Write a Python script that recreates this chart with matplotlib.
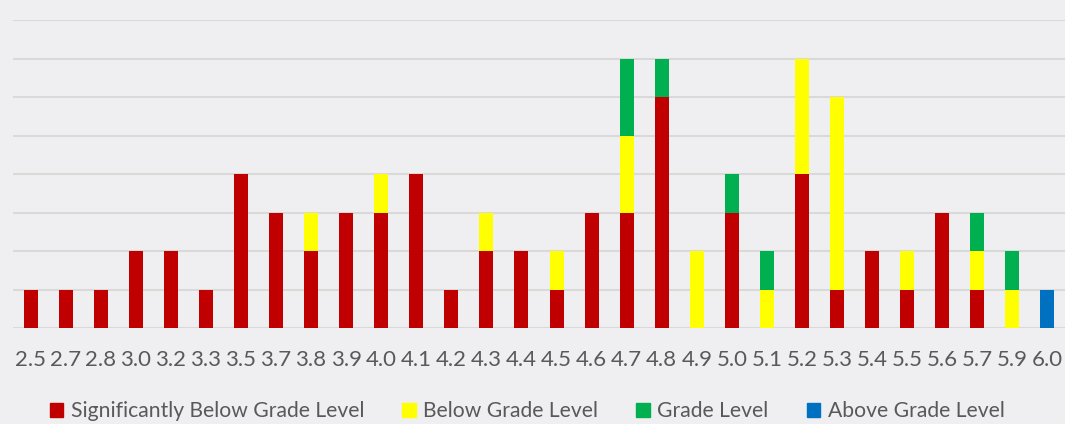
import matplotlib
matplotlib.use('Agg')
import matplotlib.pyplot as plt
from matplotlib.patches import Patch
import numpy as np

labels = ["2.5", "2.7", "2.8", "3.0", "3.2", "3.3", "3.5", "3.7", "3.8", "3.9",
          "4.0", "4.1", "4.2", "4.3", "4.4", "4.5", "4.6", "4.7", "4.8", "4.9",
          "5.0", "5.1", "5.2", "5.3", "5.4", "5.5", "5.6", "5.7", "5.9", "6.0"]
sig_below = [1, 1, 1, 2, 2, 1, 4, 3, 2, 3, 3, 4, 1, 2, 2, 1, 3, 3, 6, 0, 3, 0, 4, 1, 2, 1, 3, 1, 0, 0]
below     = [0, 0, 0, 0, 0, 0, 0, 0, 1, 0, 1, 0, 0, 1, 0, 1, 0, 2, 0, 2, 0, 1, 3, 5, 0, 1, 0, 1, 1, 0]
grade     = [0, 0, 0, 0, 0, 0, 0, 0, 0, 0, 0, 0, 0, 0, 0, 0, 0, 2, 1, 0, 1, 1, 0, 0, 0, 0, 0, 1, 1, 0]
above     = [0, 0, 0, 0, 0, 0, 0, 0, 0, 0, 0, 0, 0, 0, 0, 0, 0, 0, 0, 0, 0, 0, 0, 0, 0, 0, 0, 0, 0, 1]
series_names = ["Significantly Below Grade Level", "Below Grade Level", "Grade Level", "Above Grade Level"]

C_SIG   = "#C00000"
C_BELOW = "#FFFF00"
C_GRADE = "#00B050"
C_ABOVE = "#0070C0"
BG = "#EFEFF1"
TXT = "#595959"

plt.rcParams['font.family'] = ['Lato', 'DejaVu Sans']

fig = plt.figure(figsize=(10.65, 4.24), dpi=100, facecolor=BG)
ax = fig.add_axes([13 / 1065, 96 / 424, 1 - 13 / 1065, (328 - 20) / 424])
ax.set_facecolor(BG)

x = np.arange(len(labels))
w = 0.4
b0 = np.zeros(len(labels))
for vals, c in zip([sig_below, below, grade, above], [C_SIG, C_BELOW, C_GRADE, C_ABOVE]):
    vals = np.array(vals)
    ax.bar(x, vals, w, bottom=b0, color=c, zorder=3)
    b0 = b0 + vals

ax.set_xlim(-0.5, len(labels) - 0.5)
ax.set_ylim(0, 8)
ax.set_yticks(np.arange(0, 9))
ax.yaxis.grid(True, color="#D9D9D9", linewidth=1.5, zorder=0)
ax.tick_params(axis='y', left=False, labelleft=False)
ax.set_xticks(x)
ax.set_xticklabels(labels, fontsize=16, color=TXT)
ax.tick_params(axis='x', length=0, pad=16)
for s in ax.spines.values():
    s.set_visible(False)

handles = [Patch(color=c) for c in [C_SIG, C_BELOW, C_GRADE, C_ABOVE]]
fig.legend(handles, series_names, loc='center', bbox_to_anchor=(0.495, 1 - 411 / 424),
           ncol=4, frameon=False, fontsize=15.2, labelcolor=TXT,
           handlelength=0.65, handleheight=0.65, handletextpad=0.35, columnspacing=1.8)

plt.savefig("out.png", dpi=100, facecolor=BG)
